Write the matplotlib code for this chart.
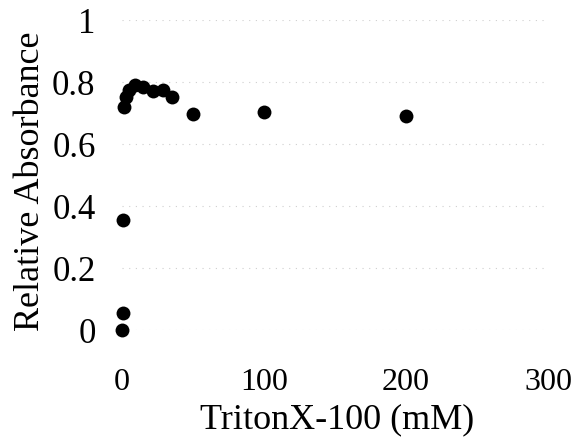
import matplotlib
matplotlib.use("Agg")
import matplotlib.pyplot as plt

# Triton X-100 concentration (mM) vs relative absorbance
triton_mM = [0, 0.5, 1, 1.5, 3, 5, 9, 15, 22, 29, 35, 50, 100, 200]
rel_abs = [0.0, 0.055, 0.355, 0.72, 0.753, 0.774, 0.79, 0.785, 0.77, 0.774, 0.753, 0.697, 0.704, 0.691]

x_ticks = [0, 100, 200, 300]
y_ticks = [0, 0.2, 0.4, 0.6, 0.8, 1]
y_tick_labels = ["0", "0.2", "0.4", "0.6", "0.8", "1"]

plt.rcParams['font.family'] = ['Liberation Serif', 'DejaVu Serif']

fig = plt.figure(figsize=(5.86, 4.41), dpi=100)
ax = fig.add_axes([0.2082, 0.2517, 0.7270, 0.7029])

ax.scatter(triton_mM, rel_abs, s=100, color='black', zorder=3, clip_on=False, linewidths=0)

ax.set_xlim(0, 300)
ax.set_ylim(0, 1)
ax.set_xticks(x_ticks)
ax.set_yticks(y_ticks)
ax.set_yticklabels(y_tick_labels)

# faint dotted gridlines, no frame
ax.grid(axis='y', color='#cfcfcf', linestyle=(0, (1, 5)), linewidth=0.8)
for s in ax.spines.values():
    s.set_visible(False)
ax.tick_params(axis='both', length=0)
ax.tick_params(axis='x', pad=27, labelsize=23)
ax.tick_params(axis='y', pad=19, labelsize=25)

ax.set_xlabel('TritonX-100 (mM)', fontsize=26)
ax.set_ylabel('Relative Absorbance', fontsize=26)
ax.xaxis.set_label_coords(0.505, -0.235)
ax.yaxis.set_label_coords(-0.175, 0.48)

fig.savefig('out.png', dpi=100)
